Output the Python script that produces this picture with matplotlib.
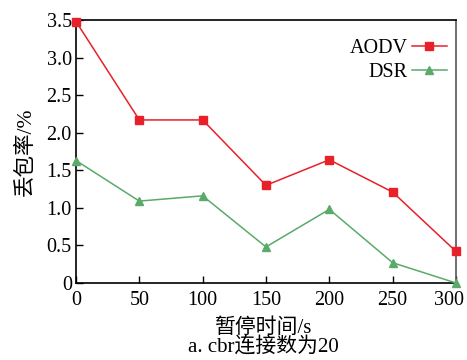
import matplotlib
matplotlib.use("Agg")
import matplotlib.pyplot as plt
from matplotlib.transforms import ScaledTranslation

plt.rcParams['font.family'] = ['Liberation Serif', 'Noto Sans CJK SC']

pause_time = [0, 50, 100, 150, 200, 250, 300]
aodv = [3.48, 2.17, 2.17, 1.30, 1.64, 1.21, 0.42]
dsr = [1.63, 1.09, 1.16, 0.48, 0.98, 0.27, 0.0]
xticks = [0, 50, 100, 150, 200, 250, 300]
yticks = [0, 0.5, 1.0, 1.5, 2.0, 2.5, 3.0, 3.5]
yticklabels = ["0", "0.5", "1.0", "1.5", "2.0", "2.5", "3.0", "3.5"]

fig = plt.figure(figsize=(4.67, 3.6), dpi=100)
ax = fig.add_axes([0.1627, 0.2139, 0.8137, 0.7305])
ax.plot(pause_time, aodv, color='#e8202a', marker='s', markersize=6, linewidth=1.1, label='AODV', clip_on=False, zorder=3)
ax.plot(pause_time, dsr, color='#5aaa6a', marker='^', markersize=6, linewidth=1.1, label='DSR', clip_on=False, zorder=3)
ax.set_xlim(0, 300)
ax.set_ylim(0, 3.5)
ax.set_xticks(xticks)
ax.set_yticks(yticks)
ax.set_yticklabels(yticklabels)
ax.tick_params(direction='in', length=5, width=1, labelsize=14.5, top=False, right=False)
ax.tick_params(axis='x', pad=6)
ax.tick_params(axis='y', pad=3)
for s in ax.spines.values():
    s.set_linewidth(1.2)
ax.spines['right'].set_color('#555555')
# shift the last x tick label slightly left so it stays inside the figure
lbls = ax.get_xticklabels()
lbls[-1].set_transform(lbls[-1].get_transform() + ScaledTranslation(-7 / 100, 0, fig.dpi_scale_trans))
ax.set_ylabel('丢包率/%', fontsize=15.5, labelpad=8)
fig.text(0.565, 0.089, '暂停时间/s', ha='center', va='center', fontsize=15)
leg = ax.legend(loc='upper right', frameon=False, markerfirst=False, fontsize=14.5,
                handlelength=1.75, bbox_to_anchor=(1.008, 0.975), borderaxespad=0.2,
                labelspacing=0.25, handletextpad=0.2)
fig.text(0.565, 0.006, 'a. cbr连接数为20', ha='center', va='bottom', fontsize=15)
fig.savefig('out.png', dpi=100)
